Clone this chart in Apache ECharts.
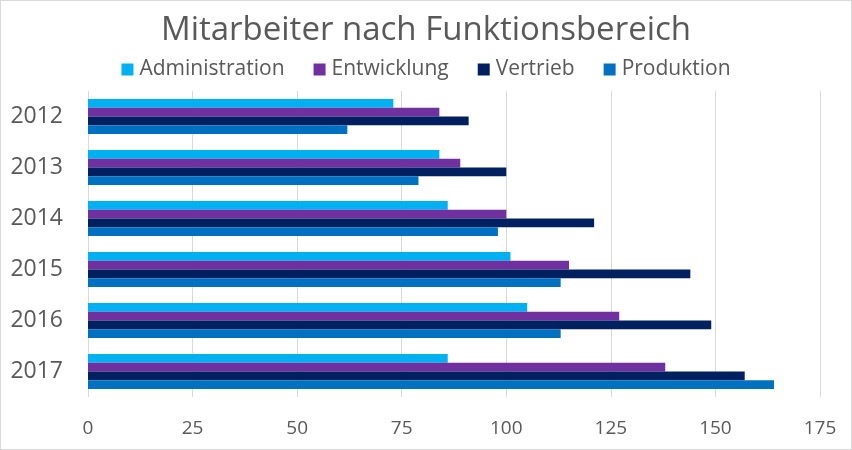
<!DOCTYPE html>
<html>
<head>
    <meta charset="utf-8">
    <title>Mitarbeiter nach Funktionsbereich</title>
    <script src="https://cdn.jsdelivr.net/npm/echarts@6/dist/echarts.min.js"></script>
    <style>
        html, body {margin:0;padding:0;background:#fff}
        #chart {width:852px;height:450px;box-sizing:border-box;border:1px solid #d9d9d9}
    </style>
</head>
<body>
<div id="chart"></div>
<script>
    // Daten
    var jahre = ['2012', '2013', '2014', '2015', '2016', '2017'];
    var administration = [73, 84, 86, 101, 105, 86];
    var entwicklung = [84, 89, 100, 115, 127, 138];
    var vertrieb = [91, 100, 121, 144, 149, 157];
    var produktion = [62, 79, 98, 113, 113, 164];

    var schrift = '"Open Sans", "Noto Sans", sans-serif';

    function balken(name, daten, farbe) {
        return {
            name: name,
            type: 'bar',
            data: daten,
            itemStyle: {color: farbe},
            barGap: '0%',
            barCategoryGap: '31%'
        };
    }

    var chart = echarts.init(document.getElementById('chart'), null, {renderer: 'canvas'});
    chart.setOption({
        animation: false,
        textStyle: {fontFamily: schrift},
        title: {
            text: 'Mitarbeiter nach Funktionsbereich',
            left: 'center',
            top: 8,
            textStyle: {fontFamily: schrift, fontSize: 33, fontWeight: 'normal', color: '#595959'}
        },
        legend: {
            top: 53,
            left: 'center',
            itemWidth: 12,
            itemHeight: 12,
            itemGap: 29,
            icon: 'rect',
            textStyle: {fontFamily: schrift, fontSize: 21, color: '#595959', padding: [0, 0, 0, 1]},
            data: ['Administration', 'Entwicklung', 'Vertrieb', 'Produktion']
        },
        grid: {left: 87, right: 31, top: 90, bottom: 52, containLabel: false},
        xAxis: {
            type: 'value',
            min: 0,
            max: 175,
            interval: 25,
            axisLine: {show: false},
            axisTick: {show: false},
            axisLabel: {fontFamily: schrift, fontSize: 19, color: '#595959', margin: 22},
            splitLine: {lineStyle: {color: '#d9d9d9', width: 1}}
        },
        yAxis: {
            type: 'category',
            inverse: true,
            data: jahre,
            axisLine: {show: false},
            axisTick: {show: false},
            axisLabel: {fontFamily: schrift, fontSize: 23, color: '#595959', margin: 25}
        },
        series: [
            balken('Administration', administration, '#00b0f0'),
            balken('Entwicklung', entwicklung, '#7030a0'),
            balken('Vertrieb', vertrieb, '#002060'),
            balken('Produktion', produktion, '#0070c0')
        ]
    });
</script>
</body>
</html>
